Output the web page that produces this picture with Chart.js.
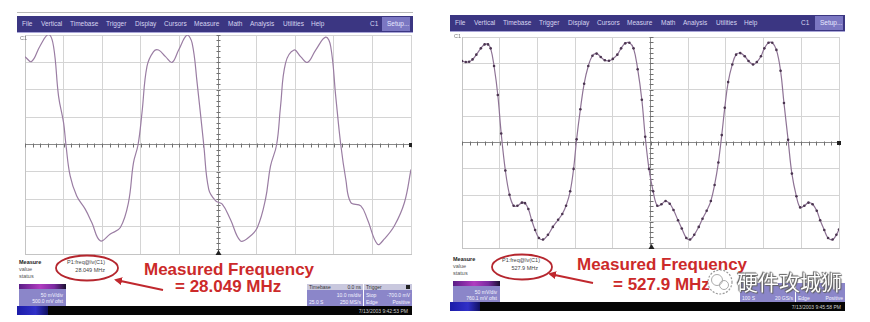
<!DOCTYPE html>
<html>
<head>
<meta charset="utf-8">
<script src="https://cdn.jsdelivr.net/npm/chart.js@4"></script>
<style>
  html,body{margin:0;padding:0;background:#fff;}
  #root{position:relative;width:870px;height:322px;overflow:hidden;font-family:"Liberation Sans",Arial,sans-serif;}
  .abs{position:absolute;}
  .bar{position:absolute;height:17px;background:#3b3682;border-bottom:1px solid #a9a6d8;box-sizing:border-box;}
  .mi{position:absolute;top:4px;font-size:6.5px;color:#d6d4f0;white-space:nowrap;}
  .setup{position:absolute;top:1px;height:14px;background:#7b77c2;color:#e8e8ff;font-size:6.5px;line-height:14px;padding-left:5px;box-sizing:border-box;}
  .tiny{position:absolute;font-size:5.5px;color:#333;white-space:nowrap;line-height:6px;}
  .red{position:absolute;font-weight:bold;font-size:17px;line-height:17px;color:#cc2a2a;white-space:nowrap;}
  .chbox{position:absolute;background:#8b86c9;}
  .chtop{position:absolute;left:0;right:0;top:0;height:5px;background:linear-gradient(90deg,#5a1d86,#b03cc0 45%,#7a2aa0 75%,#1a1030);}
  .wt{position:absolute;font-size:5px;color:#f4f4ff;white-space:nowrap;line-height:6px;}
  .blk{position:absolute;background:#050505;height:9px;}
  .cv{position:absolute;}
</style>
</head>
<body>
<div id="root">
  <div class="abs" style="left:17px;top:12px;width:396px;height:1px;background:#b8b8b8"></div>
  <div class="bar" id="barL" style="left:17px;top:16px;width:396px;"></div>
  <div class="bar" id="barR" style="left:450px;top:15px;width:395px;"></div>

  <div class="cv" style="left:24px;top:34px;width:388px;height:221px;"><canvas id="chartL"></canvas></div>
  <div class="cv" style="left:458px;top:33px;width:385px;height:219px;"><canvas id="chartR"></canvas></div>

  <div class="tiny" style="left:20px;top:35px;color:#777">C1</div>
  <div class="tiny" style="left:454px;top:33px;color:#777">C1</div>

  <!-- left bottom panel -->
  <div class="tiny" style="left:19px;top:259px;font-weight:bold;color:#222">Measure</div>
  <div class="tiny" style="left:19px;top:266px;color:#555">value</div>
  <div class="tiny" style="left:19px;top:273px;color:#555">status</div>
  <div class="tiny" style="left:67px;top:259px;color:#444">P1:freq@lv(C1)</div>
  <div class="tiny" style="left:75px;top:267px;width:30px;text-align:right;color:#444">28.049 MHz</div>

  <div class="chbox" style="left:19px;top:284px;width:47px;height:22px;"><div class="chtop"></div>
    <div class="wt" style="right:3px;top:8px">50 mV/div</div>
    <div class="wt" style="right:3px;top:14px">500.0 mV ofst</div></div>
  <div class="blk" style="left:17px;top:306px;width:395px;"></div>
  <div class="abs" style="left:17px;top:306px;width:31px;height:9px;background:linear-gradient(90deg,#1c1ca8,#3030c8 60%,#101060)"></div>
  <div class="wt" style="left:300px;top:308px;width:108px;text-align:right;color:#cfcfcf">7/13/2003 9:42:53 PM</div>

  <div class="chbox" style="left:307px;top:284px;width:56px;height:22px;">
    <div class="abs" style="left:0;top:0;width:56px;height:6px;background:#c9c8de"></div>
    <div class="wt" style="left:2px;top:0;color:#333">Timebase</div>
    <div class="wt" style="right:2px;top:0;color:#333">0.0 ns</div>
    <div class="wt" style="right:2px;top:8px">10.0 ns/div</div>
    <div class="wt" style="left:2px;top:15px">25.0 S</div>
    <div class="wt" style="right:2px;top:15px">250 MS/s</div></div>
  <div class="chbox" style="left:364px;top:284px;width:48px;height:22px;">
    <div class="abs" style="left:0;top:0;width:48px;height:6px;background:#c9c8de"></div>
    <div class="wt" style="left:2px;top:0;color:#333">Trigger</div>
    <div class="abs" style="right:2px;top:1px;width:4px;height:4px;background:#222"></div>
    <div class="wt" style="left:2px;top:8px">Stop</div>
    <div class="wt" style="right:2px;top:8px">-700.0 mV</div>
    <div class="wt" style="left:2px;top:15px">Edge</div>
    <div class="wt" style="right:2px;top:15px">Positive</div></div>

  <div class="red" style="left:144px;top:261px;">Measured Frequency</div>
  <div class="red" style="left:175px;top:278px;">= 28.049 MHz</div>

  <!-- right bottom panel -->
  <div class="tiny" style="left:453px;top:256px;font-weight:bold;color:#222">Measure</div>
  <div class="tiny" style="left:453px;top:263px;color:#555">value</div>
  <div class="tiny" style="left:453px;top:270px;color:#555">status</div>
  <div class="tiny" style="left:502px;top:257px;color:#444">P1:freq@lv(C1)</div>
  <div class="tiny" style="left:510px;top:265px;width:28px;text-align:right;color:#444">527.9 MHz</div>

  <div class="chbox" style="left:453px;top:281px;width:47px;height:21px;"><div class="chtop"></div>
    <div class="wt" style="right:3px;top:8px">50 mV/div</div>
    <div class="wt" style="right:3px;top:14px">760.1 mV ofst</div></div>
  <div class="blk" style="left:450px;top:302px;width:395px;"></div>
  <div class="abs" style="left:450px;top:302px;width:30px;height:9px;background:linear-gradient(90deg,#1c1ca8,#3030c8 60%,#101060)"></div>
  <div class="wt" style="left:733px;top:304px;width:108px;text-align:right;color:#cfcfcf">7/13/2003 9:45:58 PM</div>

  <div class="chbox" style="left:740px;top:283px;width:55px;height:19px;">
    <div class="wt" style="left:2px;top:12px">100 S</div>
    <div class="wt" style="right:2px;top:12px">20 GS/s</div></div>
  <div class="chbox" style="left:796px;top:283px;width:49px;height:19px;">
    <div class="wt" style="left:2px;top:12px">Edge</div>
    <div class="wt" style="right:2px;top:12px">Positive</div></div>

  <div class="red" style="left:577px;top:256px;">Measured Frequency</div>
  <div class="red" style="left:613px;top:276px;">= 527.9 MHz</div>

  <svg class="abs" style="left:0;top:0" width="870" height="322" viewBox="0 0 870 322">
    <defs>
      <marker id="ah" markerWidth="8" markerHeight="8" refX="6" refY="4" orient="auto" markerUnits="userSpaceOnUse">
        <path d="M0,0 L8,4 L0,8 Z" fill="#c0282e"/>
      </marker>
    </defs>
    <ellipse cx="87" cy="268" rx="31" ry="12.5" fill="none" stroke="#b5262e" stroke-width="1.8"/>
    <ellipse cx="522" cy="267" rx="30" ry="12.5" fill="none" stroke="#b5262e" stroke-width="1.8"/>
    <line x1="163" y1="290" x2="116" y2="280" stroke="#c0282e" stroke-width="2" marker-end="url(#ah)"/>
    <line x1="593" y1="283" x2="550" y2="274" stroke="#c0282e" stroke-width="2" marker-end="url(#ah)"/>
    <circle cx="720" cy="282" r="12" fill="rgba(255,255,255,0.85)" stroke="#9a9a9a" stroke-width="1.2" stroke-dasharray="2 1.5"/>
    <circle cx="717" cy="280" r="5.5" fill="none" stroke="#aaa" stroke-width="1"/>
    <circle cx="724" cy="285" r="4.5" fill="none" stroke="#aaa" stroke-width="1"/>
  </svg>
  <div class="abs" style="left:737px;top:268px;font-family:'Noto Sans CJK SC';font-size:21px;line-height:26px;color:#fff;white-space:nowrap;text-shadow:0 0 1px #555,0 0 1px #555,1px 1px 1px #666,-1px -1px 1px #666;">硬件攻城狮</div>
</div>

<script>
// ---- data (time in divisions, amplitude in divisions) ----
const menuItems = ["File","Vertical","Timebase","Trigger","Display","Cursors","Measure","Math","Analysis","Utilities","Help"];

const leftTime  = [0,0.17,0.39,0.61,0.74,0.87,1.0,1.06,1.17,1.34,1.56,1.73,1.95,2.21,2.47,2.68,2.81,2.93,3.03,3.16,3.33,3.46,3.64,3.81,3.98,4.20,4.33,4.46,4.63,4.76,4.94,5.11,5.32,5.58,5.80,6.02,6.23,6.36,6.52,6.62,6.75,6.97,7.14,7.32,7.53,7.79,7.92,8.05,8.18,8.31,8.44,8.70,8.87,9.13,9.31,9.57,9.83,10.0];
const leftVolts = [3.21,3.03,3.6,4.02,3.58,1.76,0.79,0,-1.15,-1.88,-2.36,-2.85,-3.52,-3.27,-3.03,-2.12,-0.67,0,1.15,2.85,3.39,3.45,3.21,3.0,3.45,4.0,3.7,2.24,0,-1.64,-2.06,-2.18,-2.73,-3.52,-3.39,-3.03,-2.0,-0.79,0,1.39,2.97,3.45,3.21,3.0,3.45,3.92,3.58,1.76,0,-1.27,-2.12,-2.24,-2.73,-3.64,-3.45,-2.97,-2.12,-0.91];

const rightTime  = [0.00,0.10,0.19,0.28,0.38,0.50,0.60,0.69,0.76,0.85,0.95,1.04,1.15,1.26,1.37,1.47,1.59,1.67,1.76,1.85,1.94,2.04,2.15,2.28,2.41,2.55,2.66,2.76,2.87,2.96,3.04,3.14,3.24,3.35,3.46,3.57,3.68,3.79,3.90,4.00,4.12,4.22,4.33,4.44,4.55,4.66,4.77,4.86,4.96,5.07,5.18,5.29,5.40,5.51,5.61,5.73,5.83,5.95,6.05,6.16,6.28,6.38,6.49,6.60,6.70,6.80,6.89,6.97,7.06,7.17,7.27,7.38,7.50,7.60,7.72,7.82,7.93,8.02,8.13,8.23,8.34,8.45,8.54,8.65,8.75,8.87,8.97,9.08,9.19,9.30,9.41,9.50,9.61,9.71,9.83,9.93,10.0];
const rightVolts = [3.09,3.05,3.06,3.15,3.33,3.57,3.72,3.72,3.57,2.90,1.80,0.34,-1.06,-1.98,-2.40,-2.40,-2.28,-2.30,-2.52,-2.95,-3.32,-3.62,-3.68,-3.50,-3.20,-2.93,-2.71,-2.40,-1.85,-1.00,0.12,1.26,2.23,2.90,3.29,3.37,3.24,3.12,3.10,3.17,3.33,3.57,3.76,3.78,3.57,2.78,1.62,0.22,-1.00,-1.85,-2.40,-2.34,-2.22,-2.32,-2.56,-2.95,-3.26,-3.62,-3.68,-3.50,-3.20,-2.89,-2.59,-2.22,-1.61,-0.76,0.28,1.32,2.29,2.96,3.33,3.39,3.27,3.09,2.96,3.05,3.27,3.57,3.78,3.78,3.51,2.72,1.50,0.10,-1.18,-2.04,-2.46,-2.40,-2.28,-2.34,-2.59,-2.95,-3.32,-3.62,-3.68,-3.50,-3.30];

// ---- menu bars ----
const menuOffsets = [5,24,53,89,118,147,177,211,233,266,294];
function buildBar(id, c1x, setupX, setupW){
  const bar = document.getElementById(id);
  menuItems.forEach((t,i)=>{
    const d=document.createElement('div'); d.className='mi'; d.textContent=t;
    d.style.left=menuOffsets[i]+'px'; bar.appendChild(d);
  });
  const c=document.createElement('div'); c.className='mi'; c.textContent='C1'; c.style.left=c1x+'px'; bar.appendChild(c);
  const s=document.createElement('div'); s.className='setup'; s.textContent='Setup...';
  s.style.left=setupX+'px'; s.style.width=setupW+'px'; bar.appendChild(s);
}
buildBar('barL',353,365,28);
buildBar('barR',351,365,28);

// ---- plugin: centre-line ticks & markers ----
const scopeDecor = {
  id:'scopeDecor',
  beforeDatasetsDraw(chart){
    const {ctx, scales:{x,y}, chartArea:a} = chart;
    ctx.save();
    ctx.strokeStyle='#6f6f6f'; ctx.lineWidth=1;
    const y0=Math.round(y.getPixelForValue(0))+0.5, x0=Math.round(x.getPixelForValue(5))+0.5;
    ctx.beginPath();
    for(let v=0; v<=10.001; v+=0.2){const px=Math.round(x.getPixelForValue(v))+0.5; ctx.moveTo(px,y0-2); ctx.lineTo(px,y0+2);}
    for(let v=-4; v<=4.001; v+=0.2){const py=Math.round(y.getPixelForValue(v))+0.5; ctx.moveTo(x0-2,py); ctx.lineTo(x0+2,py);}
    ctx.stroke();
    ctx.fillStyle='#222';
    ctx.fillRect(a.right-2, y0-2.5, 4, 4);
    ctx.beginPath(); ctx.moveTo(x0-3,a.bottom+1); ctx.lineTo(x0+3,a.bottom+1); ctx.lineTo(x0,a.bottom-4); ctx.closePath(); ctx.fill();
    ctx.restore();
  }
};

function makeChart(id, xs, ys, color, showPts){
  new Chart(document.getElementById(id), {
    type:'line',
    data:{datasets:[{
      data: xs.map((t,i)=>({x:t,y:ys[i]})),
      borderColor: color, borderWidth: 1.2, tension: 0.4,
      pointRadius: showPts?1.3:0, pointBackgroundColor:'#4b3550', pointBorderWidth:0,
      fill:false
    }]},
    options:{
      responsive:true, maintainAspectRatio:false, animation:false,
      layout:{padding:1},
      plugins:{legend:{display:false}, tooltip:{enabled:false}},
      scales:{
        x:{type:'linear', min:0, max:10, ticks:{display:false, stepSize:1},
           grid:{drawTicks:false, color:(c)=>c.tick && c.tick.value===5 ? '#8a8a8a' : '#d4d4d4', lineWidth:1},
           border:{display:true, color:'#c4c4c4'}},
        y:{type:'linear', min:-4, max:4, ticks:{display:false, stepSize:1},
           grid:{drawTicks:false, color:(c)=>c.tick && c.tick.value===0 ? '#8a8a8a' : '#d4d4d4', lineWidth:1},
           border:{display:true, color:'#c4c4c4'}}
      }
    },
    plugins:[scopeDecor]
  });
}
makeChart('chartL', leftTime, leftVolts, '#9a7da3', false);
makeChart('chartR', rightTime, rightVolts, '#8e7395', true);
</script>
</body>
</html>
